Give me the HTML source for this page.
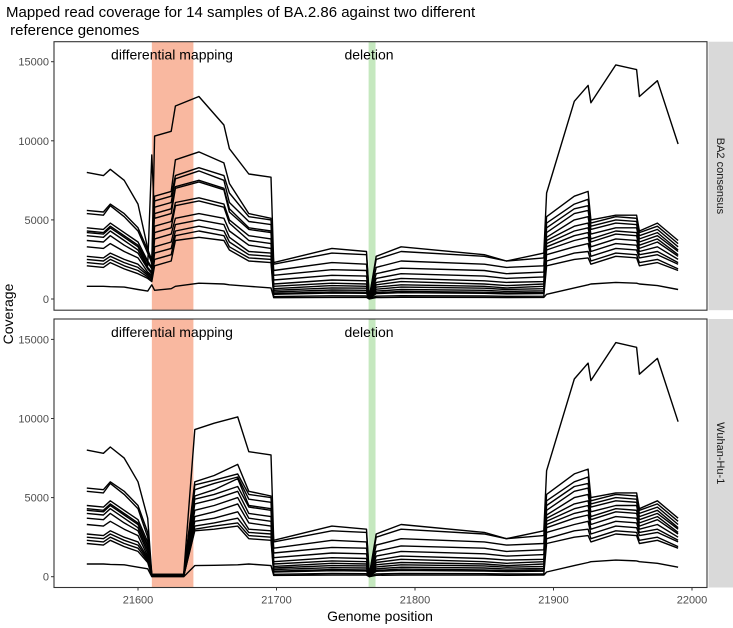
<!DOCTYPE html>
<html><head><meta charset="utf-8"><style>
body{margin:0;background:#fff}
svg{display:block;font-family:"Liberation Sans",Arial,sans-serif}
</style></head><body>
<svg id="chart" width="733" height="628" viewBox="0 0 733 628">
<text x="6" y="17" font-size="15" fill="#000">Mapped read coverage for 14 samples of BA.2.86 against two different</text>
<text x="6" y="35" font-size="15" fill="#000" xml:space="preserve"> reference genomes</text>
<text transform="translate(13,314) rotate(-90)" text-anchor="middle" font-size="14">Coverage</text>
<text x="380" y="621" text-anchor="middle" font-size="14">Genome position</text>
<g id="panels"></g>
</svg>
<script>
const positions=[21563,21575,21580,21590,21600,21607,21610,21612,21624,21627,21644,21662,21666,21680,21696,21698,21740,21765,21767,21772,21790,21850,21866,21893,21895,21915,21925,21927,21945,21960,21962,21975,21990];
const ba2Coverage=[
[8000,7800,8200,7500,6000,3200,2200,10300,10600,12200,12800,11000,9500,7900,7700,2300,3200,3000,100,2700,3300,2800,2400,2900,6700,12500,13500,12400,14800,14500,12800,13800,9800],
[5600,5500,6000,5400,4500,3100,2500,6500,6800,8800,9300,8600,7300,5400,5100,2200,2900,2800,100,2500,3000,2700,2400,2600,5200,6500,6800,5000,5300,5300,4300,4800,3700],
[5400,5300,5900,5200,4300,2900,2300,6200,6500,7800,8300,7800,6700,5200,5000,1800,2300,2200,80,2000,2400,2200,2000,2100,4800,6000,6300,4800,5200,5100,4200,4600,3500],
[4500,4400,4800,4200,3600,2400,2000,5800,6100,7600,8100,7500,6100,4900,4700,1500,1850,1800,70,1600,1950,1800,1600,1700,4500,5700,5900,4600,5000,4900,4000,4400,3300],
[4300,4200,4600,4000,3400,2300,1900,5400,5700,7100,7500,7000,5700,4500,4300,1200,1500,1450,60,1300,1600,1450,1300,1400,4200,5400,5600,4400,4800,4700,3800,4200,3100],
[4200,4100,4500,3900,3300,2100,9100,5100,5400,7000,7400,6900,5500,4400,4200,950,1200,1150,50,1050,1300,1150,1050,1100,3900,5000,5200,4100,4500,4500,3600,4000,3000],
[4000,3900,4300,3700,3100,2000,1700,4600,4900,6100,6400,6000,5000,4000,3800,800,1000,950,40,900,1100,950,850,950,3700,4600,4800,3800,4300,4200,3400,3800,2800],
[3700,3600,4000,3400,2900,1900,1600,4200,4500,5900,6200,5800,4800,3700,3500,650,850,800,30,750,900,800,700,800,3500,4300,4500,3600,4100,4000,3200,3600,2700],
[3300,3200,3500,3000,2600,1700,1500,3800,4100,5100,5400,5100,4300,3400,3200,550,700,680,30,620,750,680,600,650,3300,4000,4200,3300,3800,3700,3000,3300,2500],
[2700,2600,2900,2500,2200,1600,1400,3300,3600,4700,5000,4700,3900,3000,2900,450,570,550,20,500,600,550,480,520,3100,3700,3900,3000,3500,3400,2800,3000,2300],
[2500,2400,2700,2300,2000,1500,1300,2900,3200,4300,4600,4300,3600,2800,2700,350,450,430,20,400,480,430,380,420,2800,3300,3500,2700,3200,3100,2600,2800,2200],
[2300,2200,2500,2100,1800,1400,1200,2500,2800,4000,4300,4000,3300,2600,2500,300,380,360,10,340,400,360,320,350,2400,2900,3000,2400,2900,2800,2300,2500,1900],
[2100,2000,2300,1900,1600,1300,1100,2100,2400,3700,3900,3700,3100,2400,2300,150,200,190,10,180,210,190,170,180,2100,2500,2600,2200,2700,2600,2100,2300,1800],
[800,800,780,750,600,500,900,550,650,800,1000,950,900,800,700,80,100,100,0,90,110,100,90,100,300,700,900,950,1050,1000,950,850,600]];
const wuhanPositions=[21607,21610,21633,21641,21655,21672];
const wuhanCoverage=[
[3700,150,150,9300,9700,10100],[2800,150,150,6000,6400,7100],[2500,120,120,5800,6100,6500],
[2200,120,120,5500,5900,6300],[2000,100,100,5100,5500,6200],[1900,100,100,4900,5200,5700],
[1700,100,100,4600,4900,5400],[1500,80,80,4200,4500,5000],[1300,80,80,3800,4100,4600],
[1200,60,60,3500,3700,4100],[1100,60,60,3200,3400,3700],[1000,40,40,3000,3200,3400],
[900,40,40,2900,3000,3200],[500,0,0,700,720,750]];
const xTicks=[21600,21700,21800,21900,22000];
const yTicks=[0,5000,10000,15000];
const panelNames=["BA2 consensus","Wuhan-Hu-1"];
const diffRegion=[21610,21640];
const deletionRegion=[21766.5,21771.5];

const NS="http://www.w3.org/2000/svg";
const X0=54,X1=707;
const xs=p=>138+(p-21600)*1.385;
const panelTops=[41.7,319];
const panelZero=[299,576.7];
const pxPer=15.82/1000;
function mk(tag,attrs,parent){const e=document.createElementNS(NS,tag);for(const k in attrs)e.setAttribute(k,attrs[k]);parent.appendChild(e);return e;}
const root=document.getElementById('panels');
panelNames.forEach((name,pi)=>{
  const top=panelTops[pi],bot=top+268.5,z=panelZero[pi];
  const ys=v=>z-v*pxPer;
  const g=mk('g',{},root);
  
  
  const clip=mk('clipPath',{id:'c'+pi},g);mk('rect',{x:X0,y:top,width:X1-X0,height:bot-top},clip);
  const r1=mk('rect',{x:xs(diffRegion[0]),y:top,width:xs(diffRegion[1])-xs(diffRegion[0]),height:bot-top,fill:'#f9b8a0'},g);
  
  
  const r2=mk('rect',{x:xs(deletionRegion[0]),y:top,width:xs(deletionRegion[1])-xs(deletionRegion[0]),height:bot-top,fill:'#c5e8bf'},g);
  
  
  const lg=mk('g',{'clip-path':'url(#c'+pi+')'},g);
  ba2Coverage.forEach((vals,si)=>{
    let pts=[];
    if(pi===0){positions.forEach((p,i)=>pts.push([p,vals[i]]));}
    else{
      positions.forEach((p,i)=>{if(p<=21606)pts.push([p,vals[i]]);});
      wuhanPositions.forEach((p,i)=>pts.push([p,wuhanCoverage[si][i]]));
      positions.forEach((p,i)=>{if(p>21672)pts.push([p,vals[i]]);});
    }
    const d=pts.map((q,i)=>(i?'L':'M')+xs(q[0]).toFixed(1)+' '+ys(q[1]).toFixed(1)).join('');
    const pl=mk('path',{d:d,fill:'none',stroke:'#000','stroke-width':1.4,'stroke-linejoin':'round'},lg);
    
    
  });
  const b=mk('rect',{x:X0,y:top,width:X1-X0,height:bot-top,fill:'none',stroke:'#333','stroke-width':1.1},g);
  
  
  const t1=mk('text',{x:172,y:top+18,'text-anchor':'middle','font-size':14},g);t1.textContent='differential mapping';
  
  
  const t2=mk('text',{x:369,y:top+18,'text-anchor':'middle','font-size':14},g);t2.textContent='deletion';
  
  
  yTicks.forEach(v=>{
    mk('line',{x1:X0-3,x2:X0,y1:ys(v),y2:ys(v),stroke:'#333'},g);
    const t=mk('text',{x:X0-5,y:ys(v)+4,'text-anchor':'end','font-size':11,fill:'#4d4d4d'},g);t.textContent=v;
    
    
  });
  const s=mk('rect',{x:708.5,y:top,width:24.5,height:bot-top,fill:'#d9d9d9'},g);
  
  
  const st=mk('text',{transform:'translate(717,'+((top+bot)/2)+') rotate(90)','text-anchor':'middle','font-size':11,fill:'#1a1a1a'},g);
  st.textContent=name;
  
  
  if(pi===1){
    xTicks.forEach(p=>{
      mk('line',{x1:xs(p),x2:xs(p),y1:bot,y2:bot+3,stroke:'#333'},g);
      const t=mk('text',{x:xs(p),y:bot+16,'text-anchor':'middle','font-size':11,fill:'#4d4d4d'},g);t.textContent=p;
      
      
    });
  }
});
</script>
</body></html>
